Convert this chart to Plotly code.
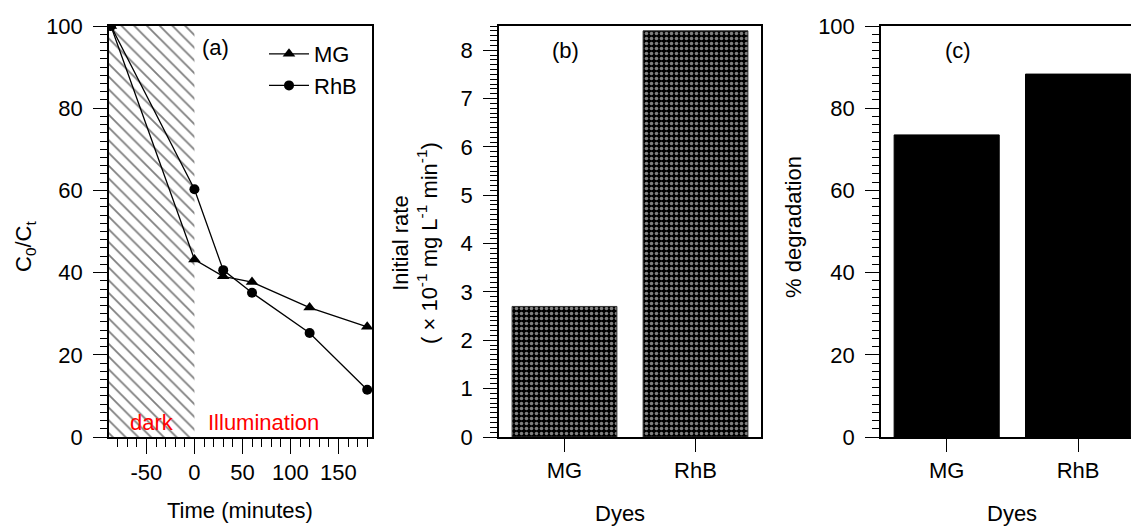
import plotly.graph_objects as go

# Panel (a): removal kinetics, dark adsorption then illumination
time_min = [-87, 0, 30, 60, 120, 180]
mg_c = [100, 43.2, 39.1, 37.7, 31.5, 26.8]
rhb_c = [100, 60.3, 40.6, 35.1, 25.3, 11.5]
dark_start, dark_end = -89, 0
time_ticks = [-50, 0, 50, 100, 150]
time_tick_text = ["-50", "0", "50", "100", "150"]

# Panels (b) and (c): per-dye summaries
dyes = ["MG", "RhB"]
initial_rate = [2.7, 8.4]
degradation = [73.5, 88.3]

FONT = "Arial, Liberation Sans, sans-serif"
FS = 22
W, H = 1131, 529


def px(x):
    return x / W


def py(y):
    return 1 - y / H


fig = go.Figure()

# hatched dark period
fig.add_trace(go.Bar(
    x=[(dark_start + dark_end) / 2], y=[100], base=0, width=[dark_end - dark_start],
    marker=dict(color="white", line=dict(width=0),
                pattern=dict(shape="\\", fgcolor="black", bgcolor="white", size=9, solidity=0.2)),
    showlegend=False, hoverinfo="skip", xaxis="x", yaxis="y"))

fig.add_trace(go.Scatter(
    x=time_min, y=mg_c, name="MG", mode="lines+markers",
    line=dict(color="black", width=1.3),
    marker=dict(symbol="triangle-up", size=11, color="black"),
    xaxis="x", yaxis="y"))
fig.add_trace(go.Scatter(
    x=time_min, y=rhb_c, name="RhB", mode="lines+markers",
    line=dict(color="black", width=1.3),
    marker=dict(symbol="circle", size=10, color="black"),
    xaxis="x", yaxis="y"))

fig.add_trace(go.Bar(
    x=dyes, y=initial_rate, width=0.8,
    marker=dict(color="black", line=dict(color="#333", width=1),
                pattern=dict(shape=".", fgcolor="white", bgcolor="black", size=5, solidity=0.4)),
    showlegend=False, xaxis="x2", yaxis="y2"))

fig.add_trace(go.Bar(
    x=dyes, y=degradation, width=0.8,
    marker=dict(color="black", line=dict(color="black", width=1)),
    showlegend=False, xaxis="x3", yaxis="y3"))

axis_common = dict(
    showline=True, linecolor="black", linewidth=1.5, mirror=True,
    ticks="outside", tickcolor="black", tickwidth=1.3,
    showgrid=False, zeroline=False, automargin=False,
    tickfont=dict(family=FONT, size=FS, color="black"),
)

ydom = [py(437), py(26)]

fig.update_layout(
    width=W, height=H,
    margin=dict(l=0, r=0, t=0, b=0, autoexpand=False),
    paper_bgcolor="white", plot_bgcolor="white",
    font=dict(family=FONT, size=FS, color="black"),
    barmode="overlay",
    xaxis=dict(axis_common, domain=[px(109), px(372)], range=[dark_start, 185],
               tickmode="array", tickvals=time_ticks, ticktext=time_tick_text, ticklen=15,
               minor=dict(dtick=10, tick0=0, ticklen=8, ticks="outside", tickcolor="black"),
               anchor="y"),
    yaxis=dict(axis_common, domain=ydom, range=[0, 100], tickmode="linear", tick0=0, dtick=20,
               ticklen=14, ticklabelstandoff=6,
               minor=dict(dtick=2, ticklen=7, ticks="outside", tickcolor="black"),
               anchor="x"),
    xaxis2=dict(axis_common, domain=[px(499), px(761)], type="category", range=[-0.5, 1.5],
                ticklen=13, anchor="y2"),
    yaxis2=dict(axis_common, domain=ydom, range=[0, 8.5], tickmode="linear", tick0=0, dtick=1,
                ticklen=14, ticklabelstandoff=6,
                minor=dict(dtick=0.1, ticklen=7, ticks="outside", tickcolor="black"),
                anchor="x2"),
    xaxis3=dict(axis_common, domain=[px(881), 1.0], type="category", range=[-0.5, 1.403],
                ticklen=13, anchor="y3"),
    yaxis3=dict(axis_common, domain=ydom, range=[0, 100], tickmode="linear", tick0=0, dtick=20,
                ticklen=14, ticklabelstandoff=6, mirror=False,
                minor=dict(dtick=2, ticklen=7, ticks="outside", tickcolor="black"),
                anchor="x3"),
    legend=dict(x=px(264), y=py(33), xanchor="left", yanchor="top",
                bgcolor="rgba(0,0,0,0)", font=dict(family=FONT, size=FS),
                itemwidth=40, tracegroupgap=0),
)

ann = [
    dict(text="(a)", x=px(215), y=py(48)),
    dict(text="(b)", x=px(565), y=py(50)),
    dict(text="(c)", x=px(958), y=py(50)),
    dict(text="dark", x=px(152), y=py(422), font=dict(color="red", size=FS, family=FONT)),
    dict(text="Illumination", x=px(263), y=py(422), font=dict(color="red", size=FS, family=FONT)),
    dict(text="Time (minutes)", x=px(240), y=py(510)),
    dict(text="Dyes", x=px(620), y=py(513)),
    dict(text="Dyes", x=px(1012), y=py(513)),
    dict(text="C<sub>0</sub>/C<sub>t</sub>", x=px(25), y=py(247), textangle=-90),
    dict(text="Initial rate<br>( × 10<sup>-1</sup> mg L<sup>-1</sup> min<sup>-1</sup>)",
         x=px(415), y=py(243), textangle=-90),
    dict(text="% degradation", x=px(793), y=py(227), textangle=-90),
]
for a in ann:
    fig.add_annotation(xref="paper", yref="paper", showarrow=False,
                       xanchor="center", yanchor="middle",
                       font=a.pop("font", dict(family=FONT, size=FS, color="black")), **a)

fig.write_html("out.html")
